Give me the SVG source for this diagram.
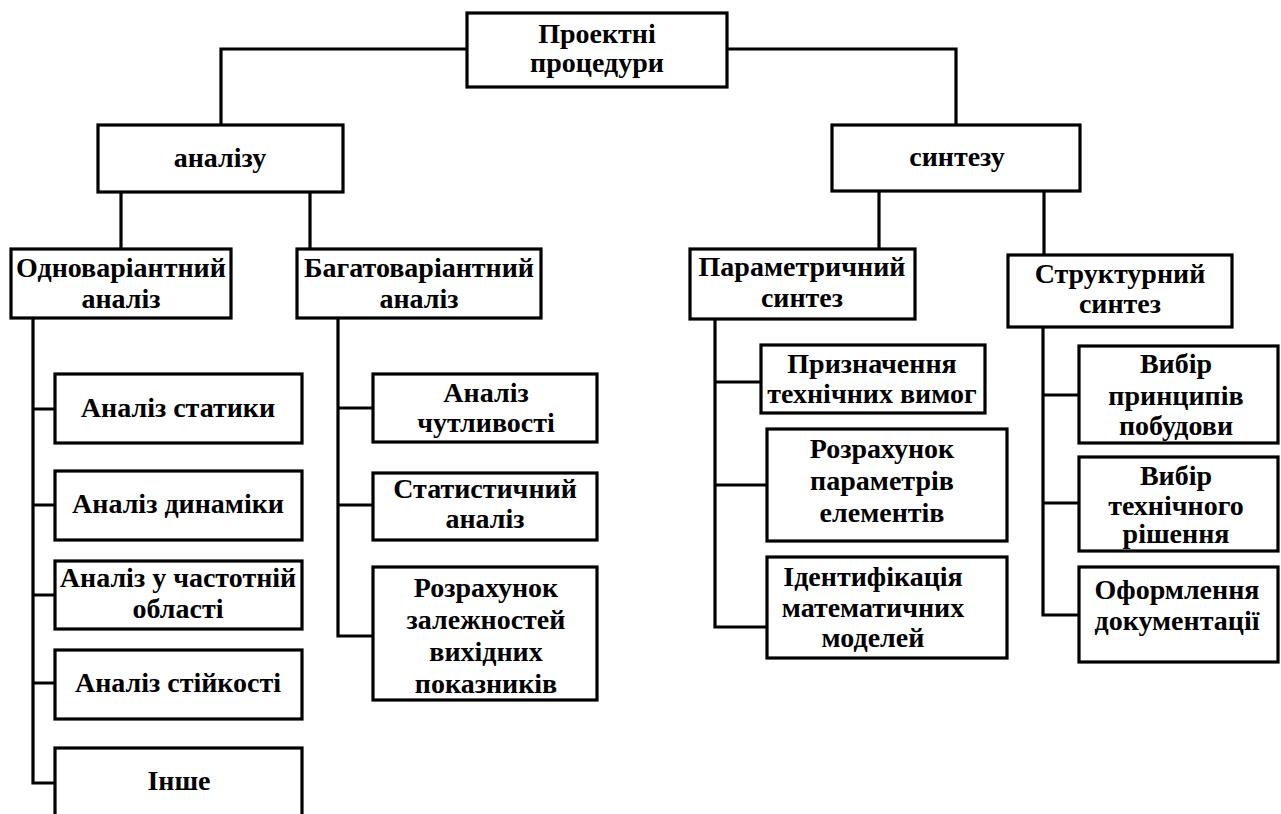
<svg xmlns="http://www.w3.org/2000/svg" width="1281" height="814" viewBox="0 0 1281 814">
<style>
.box{fill:#fff;stroke:#000;stroke-width:3.2}
.ln{fill:none;stroke:#000;stroke-width:3.2;stroke-linecap:square}
.t{font-family:'Liberation Serif','Times New Roman','DejaVu Serif',serif;font-weight:700;font-size:28px;fill:#000;text-anchor:middle}
</style>
<rect width="1281" height="814" fill="#fff"/>
<g id="connectors">
<path class="ln" d="M467 49 H221 V125"/>
<path class="ln" d="M727 49 H956 V125"/>
<path class="ln" d="M121 193 V249"/>
<path class="ln" d="M310 193 V249"/>
<path class="ln" d="M879 191 V249"/>
<path class="ln" d="M1044 191 V255"/>
<path class="ln" d="M33 318 V783 M33 409 H55 M33 505 H55 M33 595 H55 M33 683 H55 M33 783 H55"/>
<path class="ln" d="M338 318 V636 M338 408 H373 M338 505 H373 M338 636 H373"/>
<path class="ln" d="M715 319 V627 M715 382 H761 M715 485 H767 M715 627 H767"/>
<path class="ln" d="M1043 327 V615 M1043 395 H1079 M1043 503 H1079 M1043 615 H1079"/>
</g>
<g id="root"><rect class="box" x="467" y="13" width="260" height="74"/><text class="t" x="597" y="43">Проектні</text><text class="t" x="597" y="72">процедури</text></g>
<g id="analiz"><rect class="box" x="98" y="125" width="245" height="67"/><text class="t" x="220" y="167">аналізу</text></g>
<g id="syntez"><rect class="box" x="832" y="125" width="248" height="66"/><text class="t" x="957" y="166">синтезу</text></g>
<g id="odno"><rect class="box" x="11" y="249" width="220" height="69"/><text class="t" x="121" y="277">Одноваріантний</text><text class="t" x="121" y="308">аналіз</text></g>
<g id="bagato"><rect class="box" x="297" y="249" width="244" height="69"/><text class="t" x="419" y="277">Багатоваріантний</text><text class="t" x="419" y="308">аналіз</text></g>
<g id="param"><rect class="box" x="690" y="249" width="225" height="70"/><text class="t" x="802" y="276">Параметричний</text><text class="t" x="802" y="307">синтез</text></g>
<g id="struct"><rect class="box" x="1008" y="255" width="224" height="72"/><text class="t" x="1120" y="283">Структурний</text><text class="t" x="1120" y="313">синтез</text></g>
<g id="statyka"><rect class="box" x="55" y="374" width="247" height="69"/><text class="t" x="178" y="417">Аналіз статики</text></g>
<g id="dynamika"><rect class="box" x="55" y="471" width="247" height="69"/><text class="t" x="178" y="513">Аналіз динаміки</text></g>
<g id="chastota"><rect class="box" x="55" y="561" width="247" height="68"/><text class="t" x="178" y="587">Аналіз у частотній</text><text class="t" x="178" y="618">області</text></g>
<g id="stiikist"><rect class="box" x="55" y="650" width="247" height="69"/><text class="t" x="178" y="692">Аналіз стійкості</text></g>
<g id="inshe"><rect class="box" x="55" y="748" width="247" height="90"/><text class="t" x="179" y="790">Інше</text></g>
<g id="chutlyvist"><rect class="box" x="373" y="374" width="224" height="68"/><text class="t" x="486" y="402">Аналіз</text><text class="t" x="486" y="432">чутливості</text></g>
<g id="statystychnyi"><rect class="box" x="373" y="473" width="224" height="67"/><text class="t" x="485" y="498">Статистичний</text><text class="t" x="485" y="528">аналіз</text></g>
<g id="rozrakhunok1"><rect class="box" x="373" y="567" width="224" height="133"/><text class="t" x="486" y="597">Розрахунок</text><text class="t" x="486" y="629">залежностей</text><text class="t" x="486" y="661">вихідних</text><text class="t" x="486" y="693">показників</text></g>
<g id="pryznachennia"><rect class="box" x="761" y="345" width="224" height="68"/><text class="t" x="872" y="373">Призначення</text><text class="t" x="872" y="403">технічних вимог</text></g>
<g id="rozrakhunok2"><rect class="box" x="767" y="429" width="240" height="112"/><text class="t" x="882" y="458">Розрахунок</text><text class="t" x="882" y="490">параметрів</text><text class="t" x="882" y="522">елементів</text></g>
<g id="identyfikatsiia"><rect class="box" x="767" y="557" width="240" height="101"/><text class="t" x="873" y="586">Ідентифікація</text><text class="t" x="873" y="617">математичних</text><text class="t" x="873" y="647">моделей</text></g>
<g id="vybir1"><rect class="box" x="1079" y="346" width="199" height="97"/><text class="t" x="1176" y="373">Вибір</text><text class="t" x="1176" y="405">принципів</text><text class="t" x="1176" y="435">побудови</text></g>
<g id="vybir2"><rect class="box" x="1079" y="457" width="199" height="94"/><text class="t" x="1176" y="485">Вибір</text><text class="t" x="1176" y="515">технічного</text><text class="t" x="1176" y="543">рішення</text></g>
<g id="oformlennia"><rect class="box" x="1079" y="567" width="199" height="95"/><text class="t" x="1177" y="599">Оформлення</text><text class="t" x="1177" y="630">документації</text></g>
</svg>
